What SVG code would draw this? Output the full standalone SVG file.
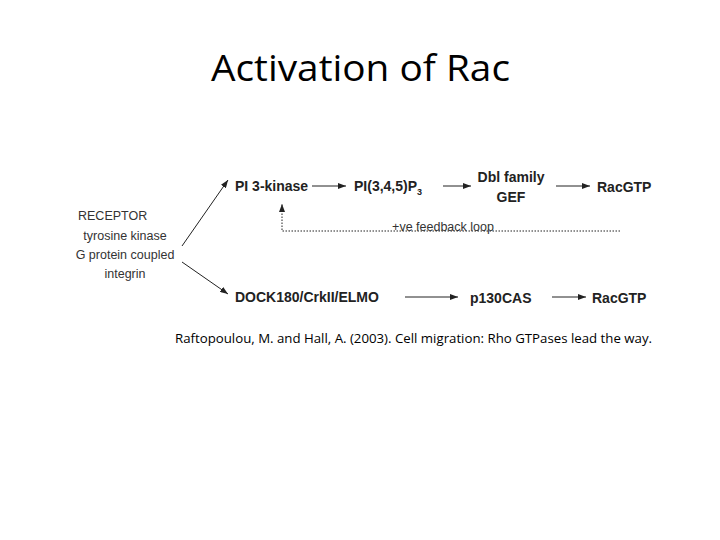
<svg xmlns="http://www.w3.org/2000/svg" width="720" height="540" viewBox="0 0 720 540">
<style>
.t{font-family:"Open Sans","Liberation Sans",sans-serif;fill:#000}
.b{font-family:"Liberation Sans",Arial,sans-serif;font-weight:bold;font-size:14px;fill:#222}
.n{font-family:"Liberation Sans",Arial,sans-serif;font-size:12.5px;fill:#333}
.c{stroke:#222;stroke-width:1;fill:none}
</style>
<defs><marker id="a" markerWidth="8" markerHeight="6" refX="8" refY="3" orient="auto" markerUnits="userSpaceOnUse"><path d="M0,0L8,3L0,6z" fill="#222"/></marker></defs>
<rect width="720" height="540" fill="#fff"/>
<text class="t" x="211" y="81" font-size="36" textLength="299" lengthAdjust="spacingAndGlyphs">Activation of Rac</text>
<g id="receptor"><text class="n" x="78" y="220" font-size="14">RECEPTOR</text>
<text class="n" x="125" y="240" text-anchor="middle">tyrosine kinase</text>
<text class="n" x="125" y="259" text-anchor="middle">G protein coupled</text>
<text class="n" x="125" y="278" text-anchor="middle">integrin</text></g>
<g id="pi3k"><text class="b" x="235" y="191">PI 3-kinase</text></g>
<g id="pip3"><text class="b" x="354" y="191">PI(3,4,5)P<tspan font-size="9" dy="4">3</tspan></text></g>
<g id="dbl"><text class="b" x="511" y="182" text-anchor="middle">Dbl family</text><text class="b" x="511" y="202" text-anchor="middle">GEF</text></g>
<g id="rac1"><text class="b" x="597" y="192">RacGTP</text></g>
<g id="dock"><text class="b" x="235" y="302">DOCK180/CrkII/ELMO</text></g>
<g id="p130"><text class="b" x="470" y="303">p130CAS</text></g>
<g id="rac2"><text class="b" x="592" y="303">RacGTP</text></g>
<g id="connectors">
<line class="c" x1="182" y1="246" x2="228" y2="180" marker-end="url(#a)"/>
<line class="c" x1="182" y1="262" x2="228" y2="294" marker-end="url(#a)"/>
<line class="c" x1="312" y1="186" x2="346" y2="186" marker-end="url(#a)"/>
<line class="c" x1="443" y1="186" x2="471" y2="186" marker-end="url(#a)"/>
<line class="c" x1="556" y1="186" x2="590" y2="186" marker-end="url(#a)"/>
<line class="c" x1="405" y1="297" x2="458" y2="297" marker-end="url(#a)"/>
<line class="c" x1="552" y1="297" x2="586" y2="297" marker-end="url(#a)"/>
<path class="c" d="M620,231H282V204" stroke-dasharray="1.5,1.5" marker-end="url(#a)"/>
</g>
<text class="n" x="443" y="231" text-anchor="middle" font-size="13.5">+ve feedback loop</text>
<text class="t" x="175" y="343" font-size="12.5" textLength="477" lengthAdjust="spacingAndGlyphs">Raftopoulou, M. and Hall, A. (2003). Cell migration: Rho GTPases lead the way.</text>
</svg>
